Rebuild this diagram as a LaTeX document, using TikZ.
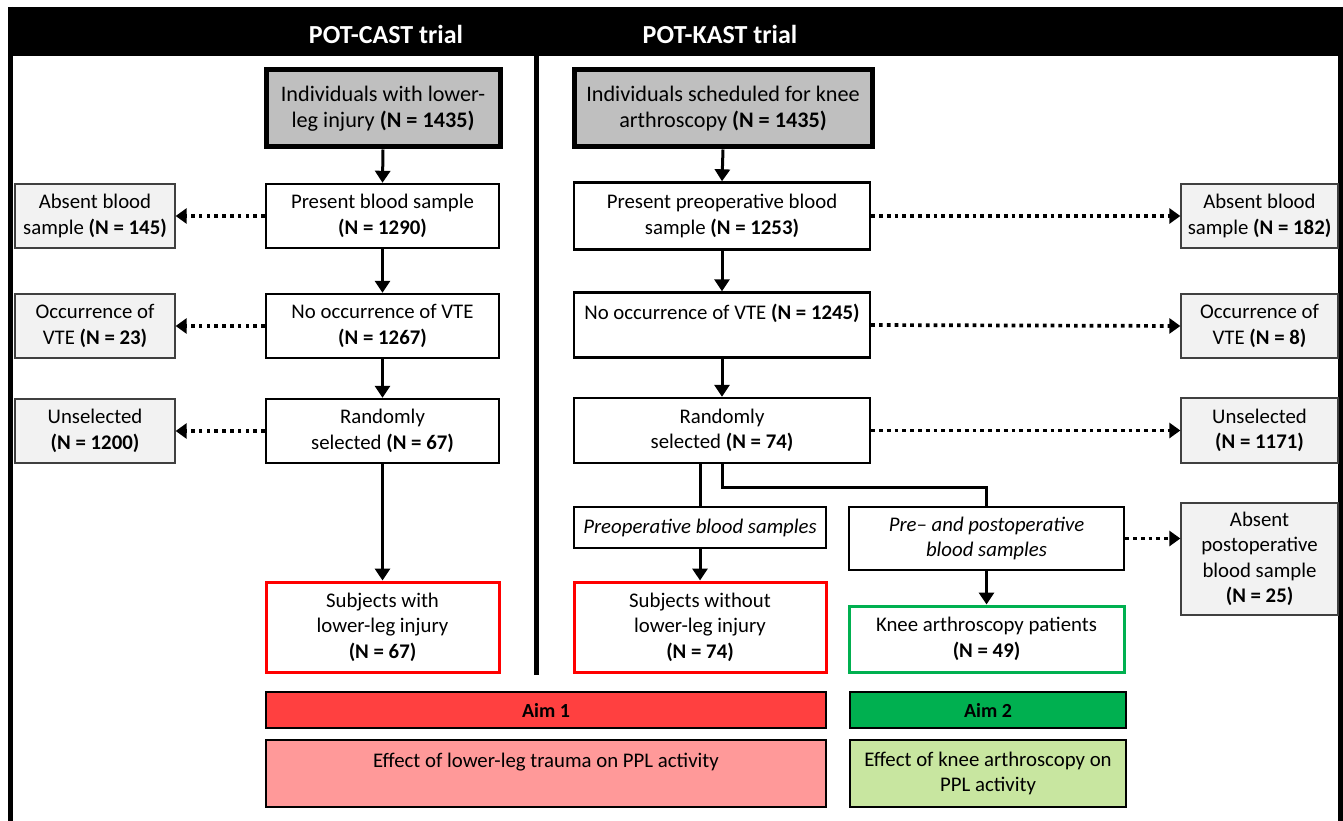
\documentclass[tikz,border=0pt]{standalone}
\usepackage{fontspec}
\setmainfont{Carlito}
\usetikzlibrary{arrows.meta}
\definecolor{topgray}{HTML}{BFBFBF}
\definecolor{sidegray}{HTML}{F2F2F2}
\definecolor{aimred}{HTML}{FF4040}
\definecolor{aimgreen}{HTML}{00B050}
\definecolor{effred}{HTML}{FF9999}
\definecolor{effgreen}{HTML}{C8E6A0}
\begin{document}
\begin{tikzpicture}[x=1pt,y=-1pt,
  txt/.style={font=\fontsize{20.8}{25.5}\selectfont},
  box/.style={txt, draw=black, line width=2.4pt, fill=white, inner sep=0pt, align=center},
  topbox/.style={box, fill=topgray, line width=5pt, font=\fontsize{22.2}{26}\selectfont},
  sidebox/.style={txt, draw=black!75, line width=1.3pt, fill=sidegray, inner sep=0pt, align=center},
  redbox/.style={box, draw=red, line width=3pt},
  greenbox/.style={box, draw=aimgreen, line width=3pt},
  aimbox/.style={draw=black, line width=2.4pt, inner sep=0pt, align=center, font=\fontsize{20}{24}\selectfont\bfseries},
  effbox/.style={txt, draw=black, line width=2.4pt, inner sep=0pt, align=center},
  arr/.style={line width=3pt, -{Triangle[length=12pt,width=15pt]}},
  conn/.style={line width=3pt},
  dotarr/.style={line width=3.7pt, dash pattern=on 3.7pt off 4.1pt, -{Triangle[length=11pt,width=15pt]}},
  frameline/.style={line width=5pt, black},
  head/.style={text=white, font=\fontsize{26}{30}\selectfont\bfseries, inner sep=0pt}
]
\useasboundingbox (0,0) rectangle (1343,821);
% frame
\fill[black] (8,7) rectangle (1343,56);
\draw[frameline] (10.5,7) -- (10.5,821);
\draw[frameline] (1340.5,7) -- (1340.5,821);
\draw[frameline] (536.5,56) -- (536.5,675);
\node[head] (h1) at (386,34) {POT-CAST trial};
\node[head] (h2) at (720,34) {POT-KAST trial};

% left column
\node[topbox, minimum width=234pt, minimum height=77pt] (t1) at (383,108.5) {Individuals with lower-\\leg injury \textbf{(N = 1435)}};
\node[box, minimum width=233pt, minimum height=64pt] (b1) at (382.5,216) {Present blood sample\\\textbf{(N = 1290)}};
\node[box, minimum width=233pt, minimum height=64pt] (b2) at (382.5,326) {No occurrence of VTE\\\textbf{(N = 1267)}};
\node[box, minimum width=233pt, minimum height=64pt] (b3) at (382.5,431) {Randomly\\selected \textbf{(N = 67)}};
\node[redbox, minimum width=233pt, minimum height=90pt] (r1) at (382.5,627) {Subjects with\\lower-leg injury\\\textbf{(N = 67)}};

\node[sidebox, minimum width=160pt, minimum height=64pt] (s1) at (95,216) {Absent blood\\sample \textbf{(N = 145)}};
\node[sidebox, minimum width=160pt, minimum height=64pt] (s2) at (95,326) {Occurrence of\\VTE \textbf{(N = 23)}};
\node[sidebox, minimum width=160pt, minimum height=64pt] (s3) at (95,431) {Unselected\\\textbf{(N = 1200)}};

% right column
\node[topbox, minimum width=298pt, minimum height=77pt] (t2) at (723,108.5) {Individuals scheduled for knee\\arthroscopy \textbf{(N = 1435)}};
\node[box, minimum width=296pt, minimum height=67pt] (c1) at (722,216) {Present preoperative blood\\sample \textbf{(N = 1253)}};
\node[box, minimum width=296pt, minimum height=65pt] (c2) at (722,325) {No occurrence of VTE \textbf{(N = 1245)}\\\mbox{}};
\node[box, minimum width=296pt, minimum height=65pt] (c3) at (722,430.5) {Randomly\\selected \textbf{(N = 74)}};
\node[box, minimum width=252pt, minimum height=41pt] (pre) at (700,527.5) {\itshape Preoperative blood samples};
\node[box, minimum width=275pt, minimum height=63pt] (pp) at (986.5,538.5) {\itshape Pre– and postoperative\\\itshape blood samples};
\node[redbox, minimum width=252pt, minimum height=90pt] (r2) at (700,627) {Subjects without\\lower-leg injury\\\textbf{(N = 74)}};
\node[greenbox, minimum width=275pt, minimum height=66pt] (g1) at (986.5,639) {Knee arthroscopy patients\\\textbf{(N = 49)}};

\node[sidebox, minimum width=157pt, minimum height=64pt] (q1) at (1259.5,216) {Absent blood\\sample \textbf{(N = 182)}};
\node[sidebox, minimum width=157pt, minimum height=64pt] (q2) at (1259.5,326) {Occurrence of\\VTE \textbf{(N = 8)}};
\node[sidebox, minimum width=157pt, minimum height=65pt] (q3) at (1259.5,430.5) {Unselected\\\textbf{(N = 1171)}};
\node[sidebox, minimum width=157pt, minimum height=112pt] (q4) at (1259.5,559) {Absent\\postoperative\\blood sample\\\textbf{(N = 25)}};

% aims
\node[aimbox, fill=aimred, minimum width=560pt, minimum height=36pt] (a1) at (546,710) {Aim 1};
\node[aimbox, fill=aimgreen, minimum width=276pt, minimum height=36pt] (a2) at (988,710) {Aim 2};
\node[effbox, fill=effred, minimum width=560pt, minimum height=67pt] (e1) at (546,773.5) {Effect of lower-leg trauma on PPL activity\\\mbox{}};
\node[effbox, fill=effgreen, minimum width=276pt, minimum height=67pt] (e2) at (988,773.5) {Effect of knee arthroscopy on\\PPL activity};

% connectors left
\draw[arr] (t1.south) -- (b1.north);
\draw[arr] (b1.south) -- (b2.north);
\draw[arr] (b2.south) -- (b3.north);
\draw[arr] (b3.south) -- (r1.north);
\draw[dotarr] (b1.west) -- (s1.east);
\draw[dotarr] (b2.west) -- (s2.east);
\draw[dotarr] (b3.west) -- (s3.east);

% connectors right
\draw[arr] (t2.south) -- (c1.north);
\draw[arr] (c1.south) -- (c2.north);
\draw[arr] (c2.south) -- (c3.north);
\draw[conn] (pre.north |- c3.south) -- (pre.north);
\draw[conn] (c3.south) -- ++(0,23) -| (pp.north);
\draw[arr] (pre.south) -- (r2.north);
\draw[arr] (pp.south) -- (g1.north);
\draw[dotarr] (c1.east) -- (q1.west);
\draw[dotarr] (c2.east) -- (q2.west);
\draw[dotarr] (c3.east) -- (q3.west);
\draw[dotarr] (pp.east) -- (q4.west |- pp.east);
\end{tikzpicture}
\end{document}
